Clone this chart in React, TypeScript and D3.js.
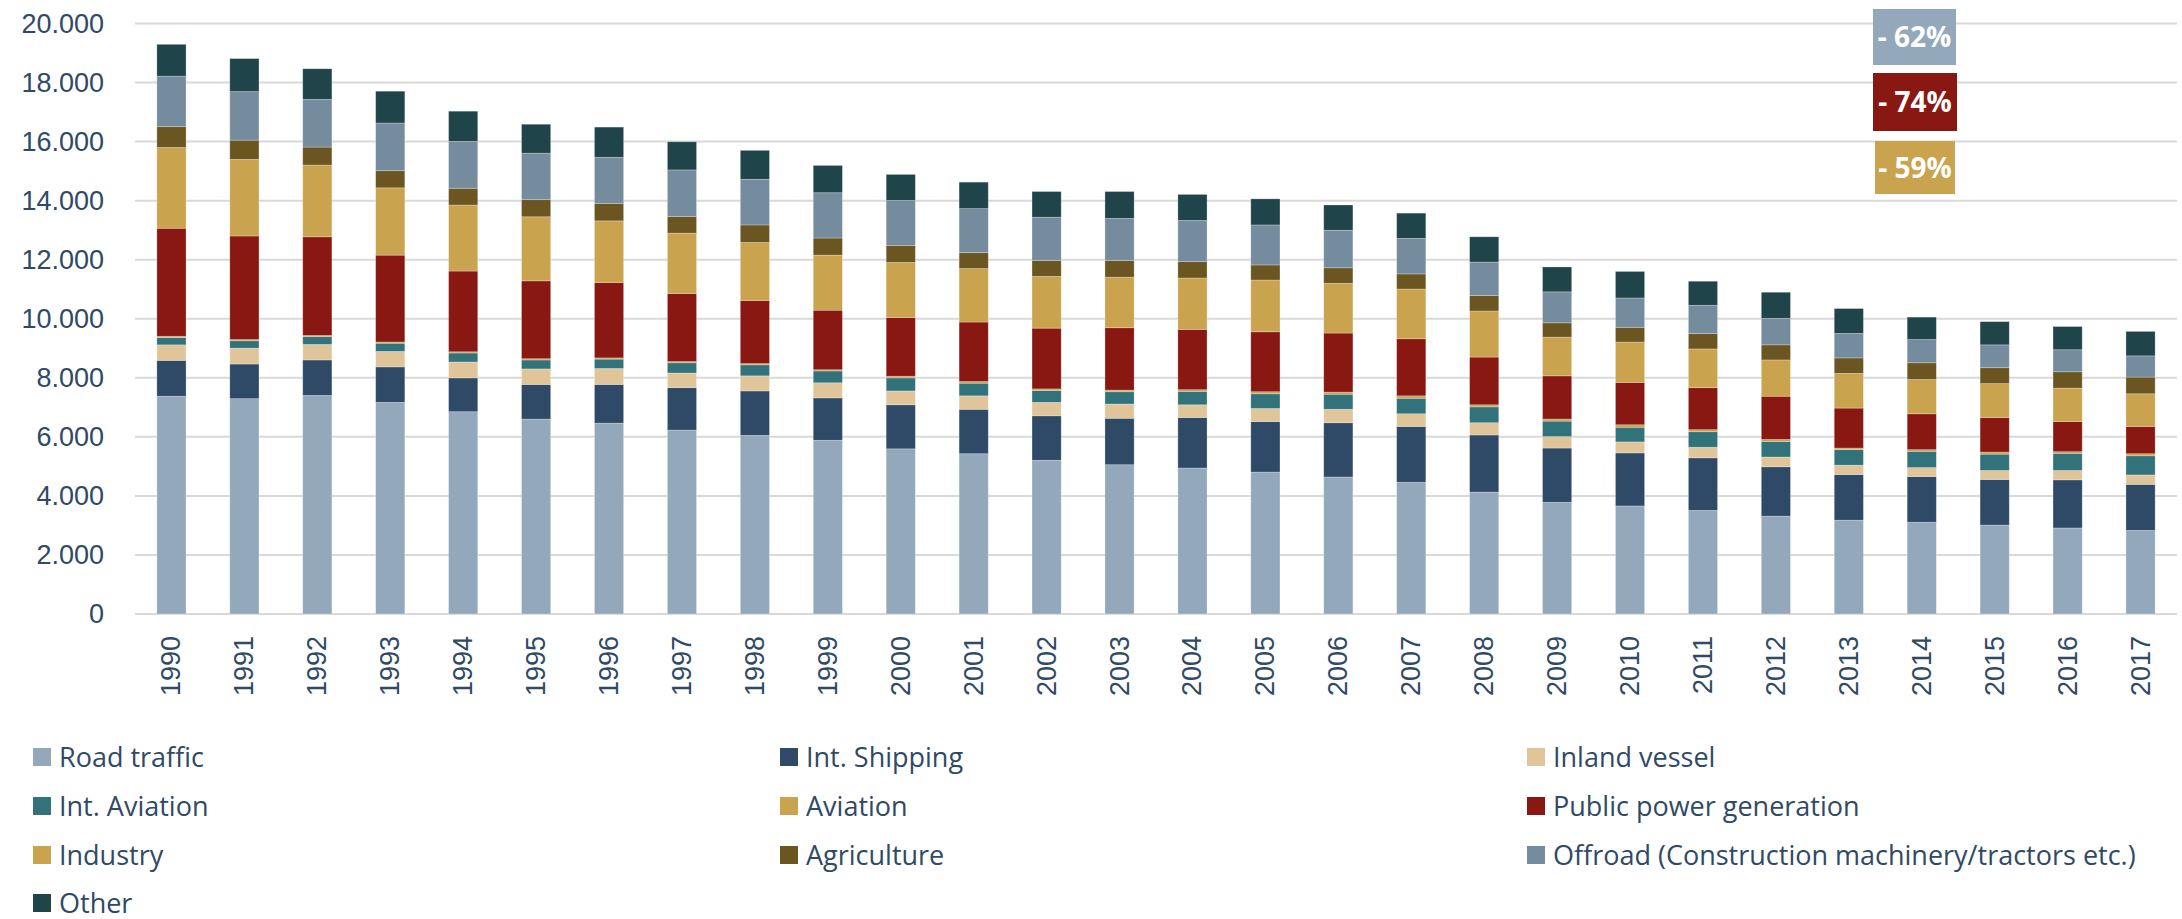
import React from "react";
import * as d3 from "d3";

const years = ["1990","1991","1992","1993","1994","1995","1996","1997","1998","1999","2000","2001","2002","2003","2004","2005","2006","2007","2008","2009","2010","2011","2012","2013","2014","2015","2016","2017"];

const roadTraffic = [7376,7293,7403,7168,6851,6602,6464,6229,6050,5884,5594,5428,5207,5055,4945,4807,4641,4461,4130,3784,3660,3508,3315,3177,3108,3011,2914,2831];
const intShipping = [1215,1174,1202,1202,1146,1174,1312,1437,1505,1436,1492,1506,1506,1575,1712,1712,1837,1893,1933,1837,1796,1782,1671,1547,1547,1547,1630,1561];
const inlandVessel = [525,538,525,525,539,525,539,497,511,511,469,455,455,483,429,442,456,428,415,387,373,359,332,317,303,304,318,318];
const intAviation = [249,249,262,276,304,304,318,345,373,401,442,429,401,415,455,497,511,525,538,525,497,525,524,525,553,552,580,649];
const aviation = [41,41,42,42,41,41,41,42,42,41,55,55,55,55,56,70,69,82,70,69,83,69,70,55,55,69,55,69];
const publicPower = [3660,3509,3342,2942,2735,2638,2555,2306,2140,2017,1989,2016,2058,2113,2044,2030,2002,1934,1616,1464,1436,1423,1464,1354,1216,1174,1022,926];
const industry = [2735,2596,2431,2279,2237,2169,2086,2044,1962,1865,1865,1810,1754,1713,1740,1754,1685,1685,1560,1312,1368,1312,1229,1174,1160,1147,1133,1104];
const agriculture = [704,650,608,580,567,580,594,567,594,580,580,538,539,566,553,511,525,511,525,484,497,525,511,525,566,538,552,567];
const offroad = [1713,1643,1616,1616,1588,1575,1560,1574,1547,1533,1519,1492,1464,1423,1395,1354,1271,1202,1133,1049,994,953,898,829,787,774,746,718];
const other = [1077,1119,1036,1077,1022,980,1022,953,980,925,884,898,870,911,883,884,856,856,856,843,898,815,884,843,760,787,787,829];

const seriesNames = ["Road traffic","Int. Shipping","Inland vessel","Int. Aviation","Aviation","Public power generation","Industry","Agriculture","Offroad (Construction machinery/tractors etc.)","Other"];
const seriesValues = [roadTraffic,intShipping,inlandVessel,intAviation,aviation,publicPower,industry,agriculture,offroad,other];
const seriesColors = ["#94a8bc","#2e4a66","#e0c59a","#32727a","#c9a34e","#8a1812","#c9a34e","#6b5520","#758b9e","#1f444a"];

const yTicks = [0,2000,4000,6000,8000,10000,12000,14000,16000,18000,20000];

const annotations = ["- 62%","- 74%","- 59%"];
const annotationColors = ["#94a8bc","#8a1812","#c9a34e"];

const TEXT = "#2f4a66";

export default function App() {
  const W = 2182, H = 919;
  const left = 135, right = 2177, top = 23.5, bottom = 614;

  const x = d3.scaleBand<string>().domain(years).range([left, right]).paddingInner(0.6).paddingOuter(0.3);
  const y = d3.scaleLinear().domain([0, 20000]).range([bottom, top]);

  const keys = seriesNames.map((_, i) => "s" + i);
  const table = years.map((yr, j) => {
    const row: any = { year: yr };
    keys.forEach((k, i) => (row[k] = seriesValues[i][j]));
    return row;
  });
  const stacked = d3.stack<any>().keys(keys)(table);

  const fmt = (v: number) => d3.format(",")(v).replace(/,/g, ".");

  const legendCols = [33, 780, 1527];
  const legendRows = [757, 806, 855, 903];

  const boxes = [
    { x0: 1873, x1: 1956, y0: 9, y1: 65 },
    { x0: 1873, x1: 1957, y0: 73, y1: 131 },
    { x0: 1875, x1: 1955, y0: 141, y1: 194 },
  ];

  return (
    <svg width={W} height={H} style={{ position: "absolute", left: 0, top: 0, background: "#fff" }}>
      {yTicks.map((t) => (
        <g key={t}>
          <line x1={left} x2={right} y1={y(t)} y2={y(t)} stroke="#d9d9d9" strokeWidth={2} />
          <text x={104} y={y(t)} textAnchor="end" dominantBaseline="central" fontFamily="'Liberation Sans', Arial, sans-serif" fontSize={27} fill={TEXT}>
            {fmt(t)}
          </text>
        </g>
      ))}
      {stacked.map((layer, i) => (
        <g key={layer.key} fill={seriesColors[i]}>
          {layer.map((d: any, j: number) => (
            <rect
              key={j}
              x={x(years[j])}
              width={x.bandwidth()}
              y={y(d[1])}
              height={Math.max(0, y(d[0]) - y(d[1]))}
              stroke="rgba(255,255,255,0.35)"
              strokeWidth={0.75}
            />
          ))}
        </g>
      ))}
      {years.map((yr) => (
        <text
          key={yr}
          transform={`translate(${(x(yr) as number) + x.bandwidth() / 2},636) rotate(-90)`}
          textAnchor="end"
          dominantBaseline="central"
          fontFamily="'Liberation Sans', Arial, sans-serif"
          fontSize={27}
          fill={TEXT}
        >
          {yr}
        </text>
      ))}
      {seriesNames.map((name, i) => {
        const cx = legendCols[i % 3];
        const cy = legendRows[Math.floor(i / 3)];
        return (
          <g key={name}>
            <rect x={cx} y={cy - 9} width={18} height={18} fill={seriesColors[i]} />
            <text x={cx + 26} y={cy + 9.5} fontFamily="'Open Sans', sans-serif" fontSize={27} fill={TEXT}>
              {name}
            </text>
          </g>
        );
      })}
      {annotations.map((a, i) => {
        const b = boxes[i];
        return (
          <g key={a}>
            <rect x={b.x0} y={b.y0} width={b.x1 - b.x0} height={b.y1 - b.y0} fill={annotationColors[i]} />
            <text x={(b.x0 + b.x1) / 2} y={(b.y0 + b.y1) / 2 + 10} textAnchor="middle" fontFamily="'Open Sans', sans-serif" fontWeight="bold" fontSize={28} fill="#fff">
              {a}
            </text>
          </g>
        );
      })}
    </svg>
  );
}
